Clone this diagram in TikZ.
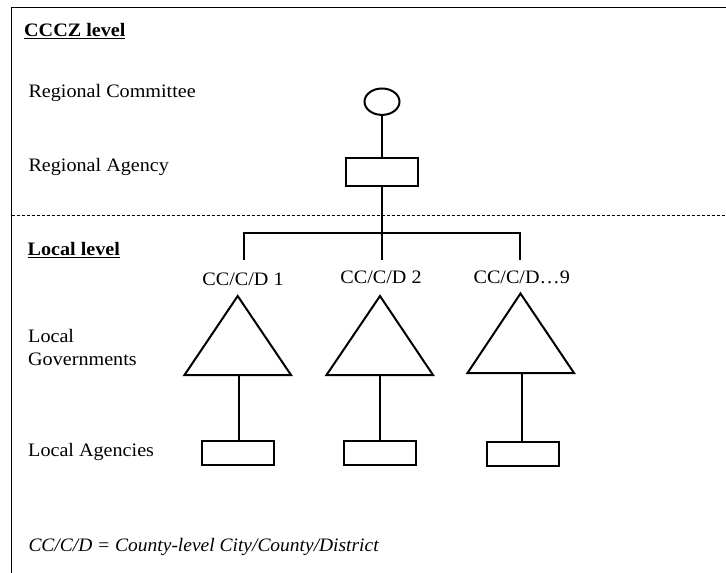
\documentclass[tikz,border=0pt]{standalone}
\usepackage{fontspec}
\setmainfont{Liberation Serif}
\usetikzlibrary{shapes.geometric}
\newcommand{\sx}[1]{\scalebox{1.06}[1]{#1}}
\newcommand{\sxi}[1]{\scalebox{1.025}[1]{#1}}
\begin{document}
\begin{tikzpicture}[x=1pt,y=-1pt,
  lbl/.style={anchor=base west, inner sep=0pt, font=\fontsize{19}{23.7}\selectfont},
  clbl/.style={anchor=base, inner sep=0pt, font=\fontsize{19}{23.7}\selectfont},
  shp/.style={draw, line width=2pt},
  conn/.style={line width=2pt},
  agbox/.style={draw, line width=2pt, minimum width=72pt, minimum height=24pt, inner sep=0pt},
]
\useasboundingbox (0,0) rectangle (726,573);
% frame and divider
\draw[line width=1pt] (726,7.5) -- (11.5,7.5) -- (11.5,573);
\draw[line width=1pt, dash pattern=on 3pt off 2pt] (11.5,215.5) -- (726,215.5);

% left column labels
\node[lbl] (cccz) at (24,36.7) {\sx{\underline{\textbf{CCCZ level}}}};
\node[lbl] (rctxt) at (28.3,97.8) {\sx{Regional Committee}};
\node[lbl] (ratxt) at (28.3,171.5) {\sx{Regional Agency}};
\node[lbl] (loclev) at (27.5,255.5) {\sx{\underline{\textbf{Local level}}}};
\node[lbl, align=left] (lgtxt) at (28,365.7) {\sx{Local}\\\sx{Governments}};
\node[lbl] (latxt) at (28,456) {\sx{Local Agencies}};
\node[lbl] (note) at (28.3,551) {\sxi{\itshape CC/C/D = County-level City/County/District}};

% regional level
\node[shp, ellipse, minimum width=35pt, minimum height=26.4pt, inner sep=0pt] (rc) at (382,101.7) {};
\node[agbox, minimum width=72pt, minimum height=28pt] (ra) at (382,172) {};
\draw[conn] (rc.south) -- (ra.north);

% branching
\coordinate (d1) at (244,260);
\coordinate (d2) at (382,260);
\coordinate (d3) at (520,260);
\draw[conn] (ra.south) -- (d2);
\draw[conn] (d1) -- ++(0,-27) -| (d3);

% labels of CC/C/D
\node[clbl] (l1) at (243,285) {\sx{CC/C/D 1}};
\node[clbl] (l2) at (381,283.5) {\sx{CC/C/D 2}};
\node[clbl] (l3) at (521.7,283.5) {\sx{CC/C/D…9}};

% triangles (local governments)
\coordinate (t1a) at (237.7,296);
\coordinate (t1b) at (239,375);
\draw[shp] (t1a) -- (291,375) -- (184.5,375) -- cycle;
\coordinate (t2a) at (380,296);
\coordinate (t2b) at (380,375);
\draw[shp] (t2a) -- (433,375) -- (326.5,375) -- cycle;
\coordinate (t3a) at (520.5,293.5);
\coordinate (t3b) at (522,373);
\draw[shp] (t3a) -- (574,373) -- (467.5,373) -- cycle;

% local agencies boxes
\node[agbox] (b1) at (238,453) {};
\node[agbox] (b2) at (380,453) {};
\node[agbox] (b3) at (523,454) {};
\draw[conn] (t1b) -- (t1b |- b1.north);
\draw[conn] (t2b) -- (t2b |- b2.north);
\draw[conn] (t3b) -- (t3b |- b3.north);
\end{tikzpicture}
\end{document}
